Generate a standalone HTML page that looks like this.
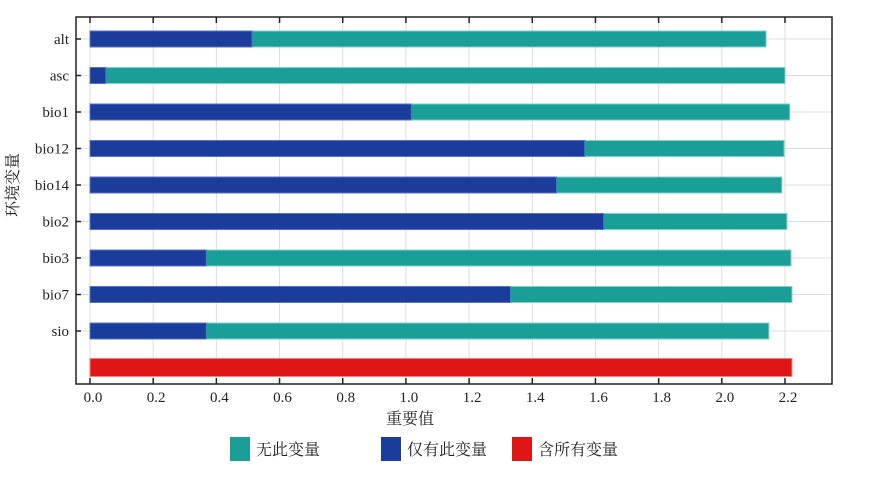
<!DOCTYPE html>
<html><head><meta charset="utf-8"><style>
body{margin:0;background:#fff;}
svg text{font-family:"Liberation Serif","Noto Serif CJK SC",serif;fill:#222;}
</style></head><body>
<svg id="chart" width="880" height="472" xmlns="http://www.w3.org/2000/svg"></svg>
<script>
const categories=['alt','asc','bio1','bio12','bio14','bio2','bio3','bio7','sio'];
const withoutVar=[2.14,2.20,2.215,2.197,2.19,2.206,2.219,2.222,2.149];
const onlyVar=[0.513,0.05,1.017,1.566,1.477,1.626,0.368,1.331,0.368];
const allVars=2.222;
const ticks=[0.0,0.2,0.4,0.6,0.8,1.0,1.2,1.4,1.6,1.8,2.0,2.2];
const tickLabels=['0.0','0.2','0.4','0.6','0.8','1.0','1.2','1.4','1.6','1.8','2.0','2.2'];
const svg=document.getElementById('chart');
const NS='http://www.w3.org/2000/svg';
const L=76,R=832,T=17,B=384;
const x=v=>90+v*(785-90)/2.2;
const y=i=>39+i*36.5;
function mk(tag,a,p){const e=document.createElementNS(NS,tag);for(const k in a)e.setAttribute(k,a[k]);(p||svg).appendChild(e);return e;}
// grid
ticks.forEach((t,i)=>{
 const g=mk('line',{x1:x(t),x2:x(t),y1:T,y2:B,stroke:'#ddd','stroke-width':1});
 
 
 const tk=mk('line',{x1:x(t),x2:x(t),y1:B,y2:B-6,stroke:'#222','stroke-width':1.5});
 
 
 const tt=mk('line',{x1:x(t),x2:x(t),y1:T,y2:T+6,stroke:'#222','stroke-width':1.5});
 
 
 const lb=mk('text',{x:x(t)+3,y:B+18,'font-size':15,'text-anchor':'middle'});
 lb.textContent=tickLabels[i];
 
 
});
categories.forEach((c,i)=>{
 const g=mk('line',{x1:L,x2:R,y1:y(i),y2:y(i),stroke:'#ddd','stroke-width':1});
 
 
 const tk=mk('line',{x1:L,x2:L+5,y1:y(i),y2:y(i),stroke:'#222','stroke-width':1.5});
 
 
 const lb=mk('text',{x:L-7,y:y(i)+5,'font-size':15,'text-anchor':'end'});
 lb.textContent=c;
 
 
 const b1=mk('rect',{x:x(0),y:y(i)-8,width:x(withoutVar[i])-x(0),height:16,fill:'#1a9e98',stroke:'#7fd0cc','stroke-width':1});
 
 
 const b2=mk('rect',{x:x(0),y:y(i)-8,width:x(onlyVar[i])-x(0),height:16,fill:'#1a3c9a',stroke:'#5b6fd0','stroke-width':1});
 
 
});
const rb=mk('rect',{x:x(0),y:y(9)-9,width:x(allVars)-x(0),height:18,fill:'#e01515',stroke:'#f08080','stroke-width':1});


const fr=mk('path',{d:`M${L},${T} L${R},${T} L${R},${B} L${L},${B} Z`,fill:'none',stroke:'#222','stroke-width':1.5});


const xt=mk('text',{x:410,y:424,'font-size':16,'text-anchor':'middle'});
xt.textContent='重要值';


const yt=mk('text',{x:0,y:0,'font-size':16,'text-anchor':'middle',transform:'translate(18,185) rotate(-90)'});
yt.textContent='环境变量';


const legend=[['#1a9e98','无此变量',230],['#1a3c9a','仅有此变量',381],['#e01515','含所有变量',512]];
legend.forEach(l=>{
 const s=mk('rect',{x:l[2],y:437,width:20,height:24,fill:l[0]});
 
 
 const t=mk('text',{x:l[2]+26,y:455,'font-size':16});
 t.textContent=l[1];
 
 
});
</script>
</body></html>
